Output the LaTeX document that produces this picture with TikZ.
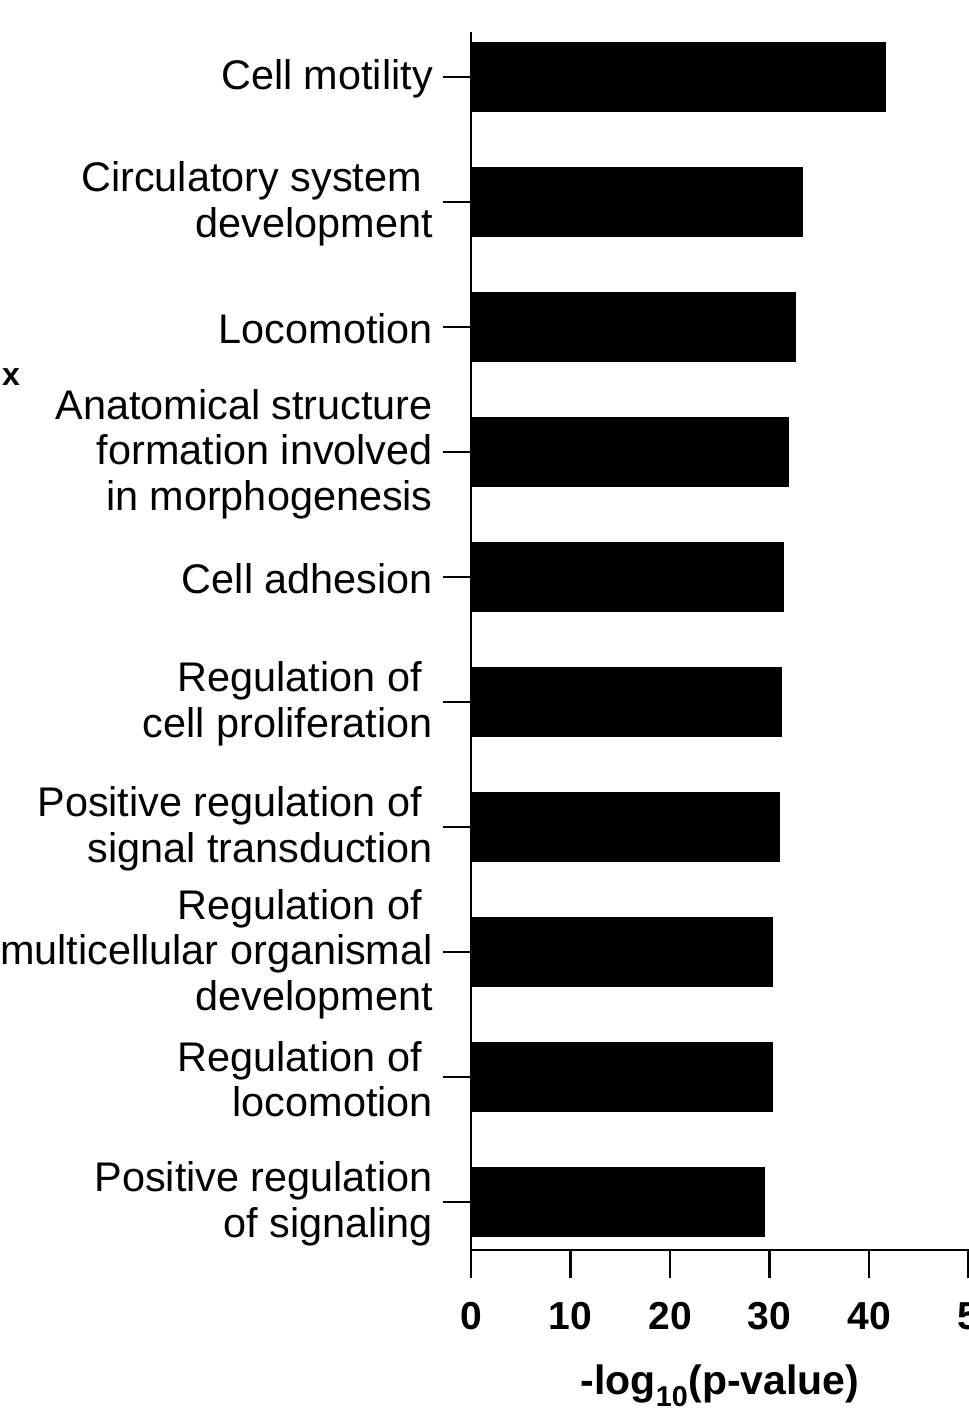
\documentclass[tikz,border=0pt]{standalone}
\usepackage{fontspec}
\setmainfont{Liberation Sans}
\begin{document}
\begin{tikzpicture}[x=1pt,y=-1pt,
  bar/.style={fill=black,draw=none},
  axisline/.style={line width=2.5pt},
  lab/.style={anchor=east,align=right,font=\fontsize{41.4}{45.5}\selectfont,inner sep=0pt},
  ticklab/.style={font=\fontsize{39}{40}\selectfont\bfseries,inner sep=0pt}]
\useasboundingbox (0,0) rectangle (969,1417);
\coordinate (o) at (471,1250);
\coordinate (top) at (471,32);
\coordinate (xend) at (975,1250);
\draw[axisline] (top) -- (o) -- (xend);
\foreach \v/\n in {0/0,10/10,20/20,30/30,40/40,50/5}{
  \coordinate (t\v) at ({471+9.95*\v},1250);
  \draw[axisline] (t\v) -- ++(0,28);
  \node[ticklab] (tl\v) at ({471+9.95*\v},1316) {\n};
}
\node[font=\fontsize{41}{40}\selectfont\bfseries,inner sep=0pt] (xt) at (720,1386) {-log\textsubscript{10}(p-value)};
\node[font=\fontsize{32}{32}\selectfont\bfseries,inner sep=0pt] (xx) at (11,377) {x};
\foreach \i/\r/\t in {
 0/886/{Cell motility},
 1/803/{Circulatory system\hspace*{11pt}\\development},
 2/796/{Locomotion},
 3/789/{Anatomical structure\\formation involved\hspace*{11pt}\\in morphogenesis},
 4/784/{Cell adhesion},
 5/782/{Regulation of\hspace*{11pt}\\cell proliferation},
 6/780/{Positive regulation of\hspace*{11pt}\\signal transduction},
 7/773/{Regulation of\hspace*{11pt}\\multicellular organismal\hspace*{11pt}\\development},
 8/773/{Regulation of\hspace*{11pt}\\locomotion},
 9/765/{Positive regulation\\of signaling}}{
  \pgfmathsetmacro{\yc}{77+125*\i}
  \fill[bar] (471,\yc-35) rectangle (\r,\yc+35);
  \coordinate (k\i) at (471,\yc);
  \draw[axisline] (k\i) -- ++(-28,0);
  \node[lab] (l\i) at (433,\yc+2) {\t};
}
\end{tikzpicture}
\end{document}
